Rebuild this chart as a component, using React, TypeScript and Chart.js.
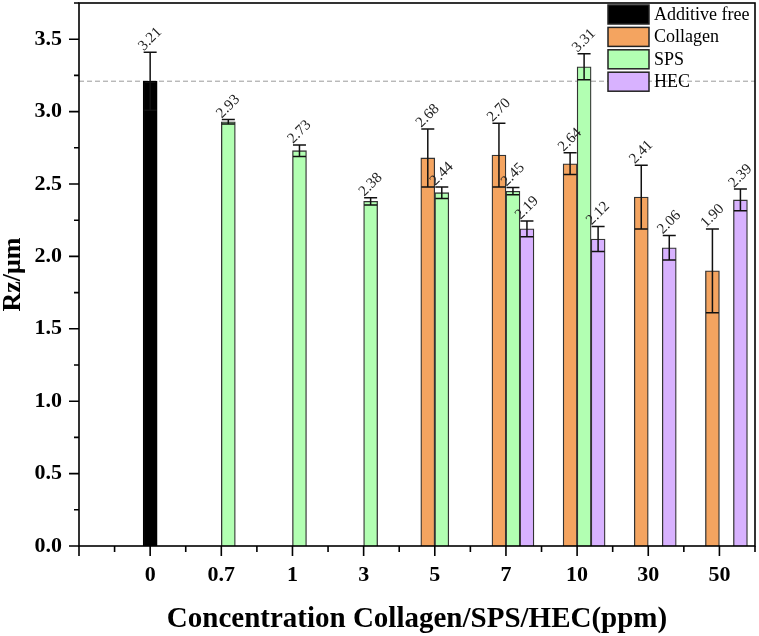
import React, { useEffect, useRef } from "react";
import { Chart, registerables } from "chart.js";

Chart.register(...registerables);

const categories = ["0", "0.7", "1", "3", "5", "7", "10", "30", "50"];

const additiveFree = [3.21, null, null, null, null, null, null, null, null];
const additiveFreeErr = [0.2, null, null, null, null, null, null, null, null];

const collagen = [null, null, null, null, 2.68, 2.7, 2.64, 2.41, 1.9];
const collagenErr = [null, null, null, null, 0.2, 0.22, 0.075, 0.22, 0.29];

const sps = [null, 2.93, 2.73, 2.38, 2.44, 2.45, 3.31, null, null];
const spsErr = [null, 0.015, 0.04, 0.025, 0.04, 0.025, 0.09, null, null];

const hec = [null, null, null, null, null, 2.19, 2.12, 2.06, 2.39];
const hecErr = [null, null, null, null, null, 0.055, 0.087, 0.085, 0.075];

const yTitle = "Rz/\u03bcm";
const xTitle = "Concentration Collagen/SPS/HEC(ppm)";

const SERIF = "'Liberation Serif', 'Times New Roman', serif";

const toPoints = (arr: (number | null)[]) => arr.map((y, i) => ({ x: i, y }));

const overlayPlugin = {
  id: "overlay",
  beforeDatasetsDraw(chart: any) {
    const { ctx, chartArea, scales } = chart;
    const y = scales.y.getPixelForValue(additiveFree[0] as number);
    ctx.save();
    ctx.strokeStyle = "#9a9a9a";
    ctx.lineWidth = 1;
    ctx.setLineDash([5, 3]);
    ctx.beginPath();
    ctx.moveTo(chartArea.left, y);
    ctx.lineTo(chartArea.right, y);
    ctx.stroke();
    ctx.restore();
  },
  afterDatasetsDraw(chart: any) {
    const { ctx, scales } = chart;
    const ys = scales.y;
    chart.data.datasets.forEach((ds: any, di: number) => {
      const errs = ds.errors;
      if (!errs) return;
      const meta = chart.getDatasetMeta(di);
      meta.data.forEach((bar: any, i: number) => {
        const v = ds.data[i].y;
        if (v === null || v === undefined) return;
        const e = errs[i] || 0;
        const top = ys.getPixelForValue(v + e);
        const bot = ys.getPixelForValue(v - e);
        const cx = bar.x;
        const half = 6.5;
        ctx.save();
        ctx.strokeStyle = "#111";
        ctx.lineWidth = 1.5;
        ctx.beginPath();
        ctx.moveTo(cx, top);
        ctx.lineTo(cx, bot);
        ctx.moveTo(cx - half, top);
        ctx.lineTo(cx + half, top);
        ctx.moveTo(cx - half, bot);
        ctx.lineTo(cx + half, bot);
        ctx.stroke();
        ctx.translate(cx, top - 13);
        ctx.rotate(-Math.PI / 4);
        ctx.fillStyle = "#222";
        ctx.font = `15px ${SERIF}`;
        ctx.textAlign = "center";
        ctx.textBaseline = "middle";
        ctx.fillText(v.toFixed(2), 0, 0);
        ctx.restore();
      });
    });
  },
  afterDraw(chart: any) {
    const { ctx, chartArea, scales } = chart;
    const { left, right, top, bottom } = chartArea;
    ctx.save();
    ctx.strokeStyle = "#000";
    ctx.lineWidth = 1.6;
    ctx.strokeRect(left, top, right - left, bottom - top);

    // y ticks
    const ys = scales.y;
    const yt = ys.ticks.map((t: any) => t.value);
    ctx.beginPath();
    yt.forEach((v: number, i: number) => {
      const p = ys.getPixelForValue(v);
      ctx.moveTo(left, p);
      ctx.lineTo(left - 10, p);
      const next = i + 1 < yt.length ? yt[i + 1] : v + (yt[1] - yt[0]);
      const mid = (v + next) / 2;
      if (mid <= ys.max + 1e-9) {
        const pm = ys.getPixelForValue(mid);
        ctx.moveTo(left, pm);
        ctx.lineTo(left - 5, pm);
      }
    });
    // x ticks
    const xs = scales.x;
    const xt = xs.ticks.map((t: any) => t.value);
    xt.forEach((v: number, i: number) => {
      const p = xs.getPixelForValue(v);
      ctx.moveTo(p, bottom);
      ctx.lineTo(p, bottom + 10);
      const next = i + 1 < xt.length ? xt[i + 1] : v + (xt[1] - xt[0]);
      const mid = (v + next) / 2;
      if (mid <= xs.max + 1e-9) {
        const pm = xs.getPixelForValue(mid);
        ctx.moveTo(pm, bottom);
        ctx.lineTo(pm, bottom + 6);
      }
    });
    ctx.stroke();

    // legend
    const items = chart.data.datasets.filter((d: any) => d.label);
    const bx = right - 147;
    let by = top + 2;
    items.forEach((d: any) => {
      ctx.fillStyle = d.backgroundColor;
      ctx.fillRect(bx, by, 41, 19);
      ctx.strokeStyle = "#222";
      ctx.lineWidth = 1.5;
      ctx.strokeRect(bx, by, 41, 19);
      ctx.fillStyle = "#000";
      ctx.font = `18px ${SERIF}`;
      ctx.textAlign = "left";
      ctx.textBaseline = "middle";
      ctx.fillText(d.label, bx + 46, by + 10);
      by += 22.4;
    });
    ctx.restore();
  },
};

export default function App() {
  const ref = useRef<HTMLCanvasElement | null>(null);
  useEffect(() => {
    if (!ref.current) return;
    const barStyle = { borderColor: "#333", borderWidth: 1.3, barThickness: 14 };
    const chart = new Chart(ref.current, {
      type: "bar",
      data: {
        datasets: [
          {
            label: "Additive free",
            data: toPoints(additiveFree),
            errors: additiveFreeErr,
            backgroundColor: "#000000",
            grouped: false,
            ...barStyle,
            borderColor: "#000",
          } as any,
          { label: "", data: toPoints(categories.map(() => null)), ...barStyle } as any,
          { label: "Collagen", data: toPoints(collagen), errors: collagenErr, backgroundColor: "#F4A460", ...barStyle } as any,
          { label: "SPS", data: toPoints(sps), errors: spsErr, backgroundColor: "#B2FFB2", ...barStyle } as any,
          { label: "HEC", data: toPoints(hec), errors: hecErr, backgroundColor: "#D8B2FF", ...barStyle } as any,
        ],
      },
      options: {
        animation: false,
        responsive: false,
        events: [],
        layout: { padding: { left: 0, right: 4, top: 3, bottom: 0 } },
        plugins: { legend: { display: false }, tooltip: { enabled: false } },
        scales: {
          x: {
            type: "linear",
            min: -1,
            max: 8.5,
            offset: false,
            grid: { display: false, drawTicks: false },
            border: { display: false },
            ticks: {
              stepSize: 1,
              includeBounds: false,
              padding: 16,
              color: "#000",
              font: { family: SERIF, size: 22, weight: "bold", lineHeight: 1.2 },
              callback: (v: any) => categories[v] ?? "",
              maxRotation: 0,
              autoSkip: false,
            },
            title: {
              display: true,
              text: xTitle,
              color: "#000",
              font: { family: SERIF, size: 29, weight: "bold", lineHeight: 1 },
              padding: { top: 0, bottom: 2 },
            },
            afterFit: (s: any) => {
              s.height = 90;
              s.paddingLeft = 0;
              s.paddingRight = 0;
            },
          } as any,
          y: {
            min: 0,
            max: 3.75,
            grid: { display: false, drawTicks: false },
            border: { display: false },
            ticks: {
              stepSize: 0.5,
              includeBounds: false,
              padding: 17,
              color: "#000",
              font: { family: SERIF, size: 22, weight: "bold" },
              callback: (v: any) => Number(v).toFixed(1),
            },
            title: {
              display: true,
              text: yTitle,
              color: "#000",
              font: { family: SERIF, size: 26, weight: "bold", lineHeight: 1 },
              padding: { top: 0, bottom: 0 },
            },
            afterFit: (s: any) => {
              s.width = 79;
              s.paddingTop = 0;
              s.paddingBottom = 0;
            },
          } as any,
        },
      },
      plugins: [overlayPlugin],
    });
    return () => chart.destroy();
  }, []);
  return (
    <div style={{ position: "fixed", left: 0, top: 0, width: 759, height: 636, background: "#fff" }}>
      <canvas ref={ref} width={759} height={636} style={{ width: 759, height: 636 }} />
    </div>
  );
}
